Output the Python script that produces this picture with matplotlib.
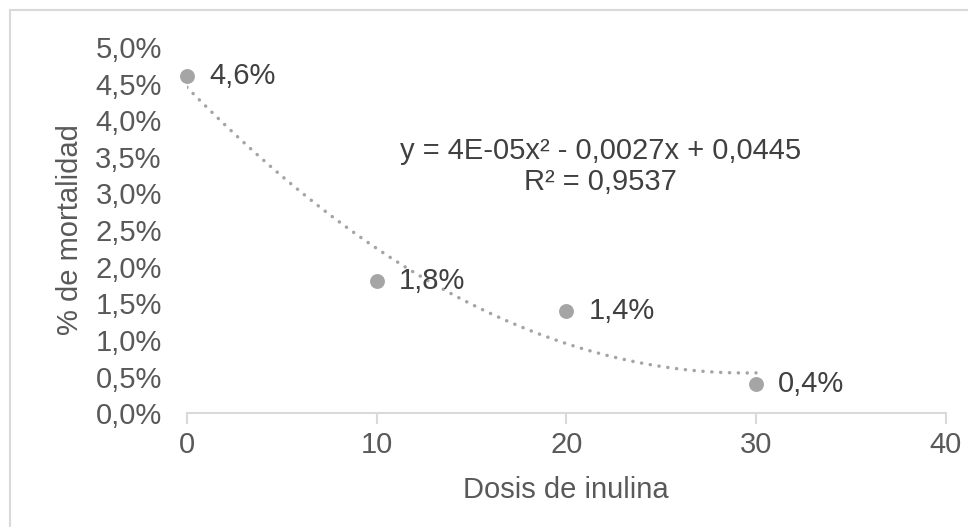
import numpy as np
import matplotlib
matplotlib.use("Agg")
import matplotlib.pyplot as plt
from matplotlib.patches import Rectangle

dosis = [0, 10, 20, 30]
mortalidad = [0.046, 0.018, 0.014, 0.004]
etiquetas = ["4,6%", "1,8%", "1,4%", "0,4%"]
yticks = [0.0, 0.005, 0.01, 0.015, 0.02, 0.025, 0.03, 0.035, 0.04, 0.045, 0.05]
xticks = [0, 10, 20, 30, 40]
ecuacion = "y = 4E-05x² - 0,0027x + 0,0445\nR² = 0,9537"

plt.rcParams['font.family'] = ['Liberation Sans', 'DejaVu Sans']
TXT = "#595959"; LBL = "#404040"; GRIS = "#A5A5A5"; LINEA = "#D9D9D9"
FS = 21

fig = plt.figure(figsize=(9.68, 5.27), dpi=100)
ax = fig.add_axes([0.193, 0.216, 0.784, 0.695])

# polynomial trendline (order 2) fitted to the data
coef = np.polyfit(dosis, mortalidad, 2)
xs = np.linspace(min(dosis), max(dosis), 300)
ax.plot(xs, np.polyval(coef, xs), linestyle=(0, (0.05, 2.5)), color=GRIS,
        lw=2.5, dash_capstyle="round", zorder=2)
ax.scatter(dosis, mortalidad, s=115, color=GRIS, zorder=3, linewidths=0,
           clip_on=False)

for x, y, t in zip(dosis, mortalidad, etiquetas):
    ax.annotate(t, (x, y), xytext=(16, 0), textcoords="offset points",
                va="center", ha="left", fontsize=FS, color=LBL, zorder=4)

ax.text(21.8, 0.0337, ecuacion, ha="center", va="center", multialignment="center",
        fontsize=FS, color=LBL, linespacing=1.15)

ax.set_xlim(0, 40)
ax.set_ylim(0, 0.05)
ax.set_xticks(xticks)
ax.set_yticks(yticks)
ax.set_yticklabels([f"{v*100:.1f}%".replace(".", ",") for v in yticks])
for s in ["top", "right", "left"]:
    ax.spines[s].set_visible(False)
ax.spines["bottom"].set_color(LINEA)
ax.spines["bottom"].set_linewidth(1.5)
ax.tick_params(axis="x", colors=LINEA, length=8, width=1.5, labelcolor=TXT,
               labelsize=FS, pad=5)
ax.tick_params(axis="y", length=0, labelcolor=TXT, labelsize=FS, pad=18)
ax.set_xlabel("Dosis de inulina", fontsize=FS, color=TXT, labelpad=12)
ax.set_ylabel("% de mortalidad", fontsize=FS, color=TXT, labelpad=8)

fig.patches.append(Rectangle((10 / 968, -0.1), 1.2, 1 - 10 / 527 + 0.1,
                             transform=fig.transFigure, fill=False,
                             edgecolor=LINEA, lw=1.5))

fig.savefig("out.png", dpi=100)
